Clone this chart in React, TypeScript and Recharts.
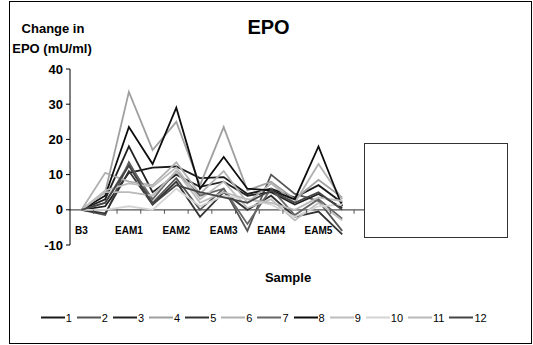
import React from 'react';
import { LineChart, Line, XAxis, YAxis, ReferenceLine, ReferenceDot } from 'recharts';

const categories = ['B3', 'B3b', 'EAM1', 'EAM1b', 'EAM2', 'EAM2b', 'EAM3', 'EAM3b', 'EAM4', 'EAM4b', 'EAM5', 'EAM5b'];
const yTicks = [-10, 0, 10, 20, 30, 40];

const s1 = [0, 1, 10.5, 12, 12.3, 9, 9.3, 4.5, 6, 3.5, 7, 2];
const s2 = [0, -1.5, 13.5, 2, 9, 0, 6, -6, 10, 4.5, 2.5, -6];
const s3 = [0, 3, 18, 5, 10, 6.5, 8, 4, 5, 1.5, 4.5, 0.5];
const s4 = [0, 5, 33.5, 17, 25, 7, 23.5, 5.5, 8, 3, 8.5, 3.5];
const s5 = [0, -1, 11, 1.5, 8, -2, 5, 0, 4, -2, -0.5, -7];
const s6 = [0, 10.5, 8, 7, 13.5, 4.5, 11, 2, 7.5, 2, 13, 3];
const s7 = [0, 2, 13, 3, 11, 4, 6, -4, 6, -1.5, 3, -2.5];
const s8 = [0, 4, 23.5, 13, 29, 6, 15, 6, 5.5, 3, 18, 1];
const s9 = [0, 5.5, 7.5, 6.5, 12, 3, 8, 0.5, 3, -3, 2, -3];
const s10 = [0, 0, 1, 0, 6, 1, 4, 3, 1.5, -2, 1, 1.5];
const s11 = [0, 5, 5, 4, 11, 2, 5, 3, 2, 0, 3.5, 2.5];
const s12 = [0, 2, 12.5, 1.5, 7, 5, 3.5, 2, 5.5, 2, 5, 0];

const seriesNames = ['1', '2', '3', '4', '5', '6', '7', '8', '9', '10', '11', '12'];
const seriesValues = [s1, s2, s3, s4, s5, s6, s7, s8, s9, s10, s11, s12];
const seriesColors = ['#1a1a1a', '#555555', '#222222', '#a0a0a0', '#333333', '#b0b0b0', '#666666', '#0d0d0d', '#bdbdbd', '#d4d4d4', '#bababa', '#444444'];

const data = categories.map((c, i) => {
  const row: Record<string, any> = { cat: c };
  seriesNames.forEach((n, j) => {
    row['s' + n] = seriesValues[j][i];
  });
  return row;
});

const FONT = '"Liberation Sans", Arial, Helvetica, sans-serif';

const XTick = (props: any) => {
  const { x, y, payload } = props;
  return (
    <text x={x} y={y - 11.5} textAnchor="middle" fontSize={10} fontWeight="bold" fontFamily={FONT} fill="#000">
      {payload.value}
    </text>
  );
};

const TickMark = (props: any) => {
  const { cx, cy } = props;
  if (cx == null || cy == null) return null;
  return <line x1={cx + 11.85} y1={cy} x2={cx + 11.85} y2={cy + 4} stroke="#555" strokeWidth={1} />;
};

const center: React.CSSProperties = {
  position: 'absolute',
  transform: 'translate(-50%, -50%)',
  whiteSpace: 'nowrap',
  lineHeight: 1,
  fontFamily: FONT,
  fontWeight: 'bold',
  color: '#000',
};

export default function App() {
  return (
    <div
      style={{
        position: 'absolute',
        left: 9,
        top: 1,
        width: 523,
        height: 343,
        boxSizing: 'border-box',
        border: '1px solid #000',
        background: '#fff',
        fontFamily: FONT,
      }}
    >
      <div style={{ position: 'absolute', left: 0, top: 0 }}>
        <LineChart width={521} height={341} data={data} margin={{ top: 67, right: 167, left: 30, bottom: 78 }}>
          <XAxis
            dataKey="cat"
            interval={1}
            height={20}
            axisLine={false}
            tickLine={false}
            tickSize={0}
            tickMargin={0}
            tick={<XTick />}
            padding={{ left: 11.5, right: 21.8 }}
          />
          <YAxis
            width={30}
            domain={[-10, 40]}
            ticks={yTicks}
            interval={0}
            tickSize={4}
            tickMargin={3}
            axisLine={{ stroke: '#000' }}
            tickLine={{ stroke: '#000' }}
            tick={{ fontSize: 13, fontWeight: 'bold', fill: '#000', fontFamily: FONT }}
          />
          <ReferenceLine y={0} stroke="#555" strokeWidth={1.2} />
          {categories.map((c) => (
            <ReferenceDot key={'t' + c} x={c} y={0} r={0} shape={<TickMark />} />
          ))}
          {seriesNames.map((n, j) => (
            <Line
              key={n}
              type="linear"
              dataKey={'s' + n}
              name={n}
              stroke={seriesColors[j]}
              strokeWidth={1.8}
              dot={false}
              activeDot={false}
              isAnimationActive={false}
            />
          ))}
        </LineChart>
      </div>
      <div style={{ ...center, left: 258.5, top: 25.4, fontSize: 20 }}>EPO</div>
      <div style={{ ...center, left: 43, top: 26, fontSize: 13 }}>Change in</div>
      <div style={{ ...center, left: 42, top: 45.5, fontSize: 13 }}>EPO (mU/ml)</div>
      <div style={{ ...center, left: 278, top: 274.5, fontSize: 13 }}>Sample</div>
      <div
        style={{
          position: 'absolute',
          left: 354,
          top: 141,
          width: 144,
          height: 95,
          boxSizing: 'border-box',
          border: '1px solid #333',
          background: '#fff',
        }}
      />
      <div
        style={{
          position: 'absolute',
          left: 30.7,
          top: 315.5,
          transform: 'translateY(-50%)',
          display: 'flex',
          alignItems: 'center',
          fontSize: 11,
          lineHeight: 1,
          fontFamily: FONT,
          color: '#000',
          whiteSpace: 'nowrap',
        }}
      >
        {seriesNames.map((n, j) => (
          <div key={n} style={{ display: 'flex', alignItems: 'center', marginRight: 5 }}>
            <div style={{ width: 24, height: 2, background: seriesColors[j] }} />
            <span style={{ marginLeft: 1 }}>{n}</span>
          </div>
        ))}
      </div>
    </div>
  );
}
